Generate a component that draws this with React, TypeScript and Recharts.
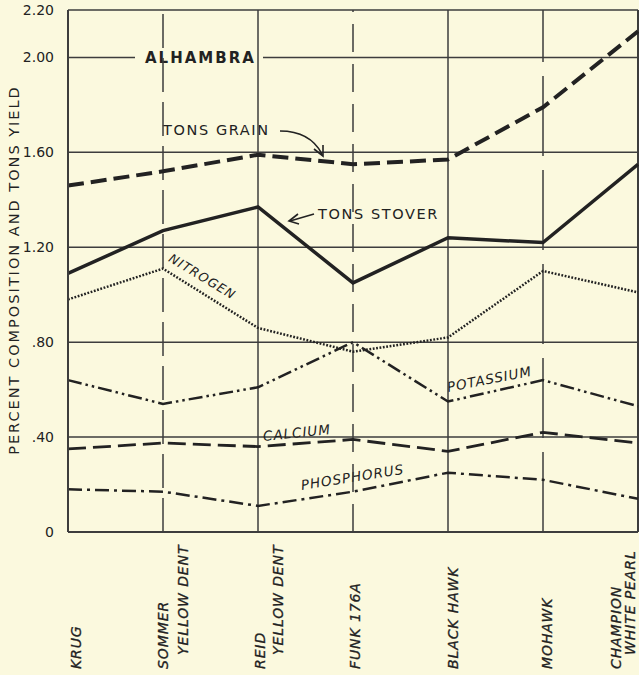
import { LineChart, Line, XAxis, YAxis, CartesianGrid, ReferenceLine, Customized } from 'recharts';

const INK = '#222';
const GRID = '#3d3d3d';
const BG = '#fbf9de';
const FONT = '"DejaVu Sans", Verdana, sans-serif';

const VARIETIES = ['KRUG', 'SOMMER YELLOW DENT', 'REID YELLOW DENT', 'FUNK 176A', 'BLACK HAWK', 'MOHAWK', 'CHAMPION WHITE PEARL'];
const VARIETY_LINES = [
  ['KRUG'],
  ['SOMMER', 'YELLOW DENT'],
  ['REID', 'YELLOW DENT'],
  ['FUNK  176A'],
  ['BLACK HAWK'],
  ['MOHAWK'],
  ['CHAMPION', 'WHITE PEARL'],
];

const tonsGrain = [1.46, 1.52, 1.59, 1.55, 1.57, 1.79, 2.11];
const tonsStover = [1.09, 1.27, 1.37, 1.05, 1.24, 1.22, 1.55];
const nitrogen = [0.98, 1.11, 0.86, 0.76, 0.82, 1.1, 1.01];
const potassium = [0.64, 0.54, 0.61, 0.8, 0.55, 0.64, 0.53];
const calcium = [0.35, 0.375, 0.36, 0.39, 0.34, 0.42, 0.375];
const phosphorus = [0.18, 0.17, 0.11, 0.17, 0.25, 0.22, 0.14];

const Y_TICKS = [0, 0.4, 0.8, 1.2, 1.6, 2.0, 2.2];

const data = VARIETIES.map((name, i) => ({
  name,
  grain: tonsGrain[i],
  stover: tonsStover[i],
  n: nitrogen[i],
  k: potassium[i],
  ca: calcium[i],
  p: phosphorus[i],
}));

// horizontal nudge of each rotated label (first line, second line)
const TICK_SHIFT = [[8, 0], [0, 20], [2, 20], [2, 0], [5, 0], [4, 0], [-22, -8]];

const fmtY = (v: number) => {
  if (v === 0) return '0';
  const s = v.toFixed(2);
  return v < 1 ? s.slice(1) : s;
};

function XTick(props: any) {
  const { x, index } = props;
  const lines = VARIETY_LINES[index] || [];
  const shift = TICK_SHIFT[index] || [0, 0];
  return (
    <g>
      {lines.map((l, i) => (
        <text
          key={i}
          transform={`translate(${x + shift[i]},${i ? 655 : 669}) rotate(-90)`}
          dominantBaseline="central"
          fontFamily={FONT}
          fontStyle="italic"
          fontSize={14}
          letterSpacing={0.9}
          stroke={INK}
          strokeWidth={0.3}
          fill={INK}
        >
          {l}
        </text>
      ))}
    </g>
  );
}

function Notes() {
  const t = { fontFamily: FONT, fill: INK } as const;
  return (
    <g>
      <text transform="translate(14,270) rotate(-90)" textAnchor="middle" dominantBaseline="central" fontSize={14.5} letterSpacing={2} {...t}>
        PERCENT COMPOSITION AND TONS YIELD
      </text>
      <rect x={135} y={46} width={128} height={22} fill={BG} />
      <text x={145} y={58} dominantBaseline="central" fontSize={15} fontWeight="bold" letterSpacing={2} {...t}>
        ALHAMBRA
      </text>
      <rect x={158} y={118} width={122} height={22} fill={BG} />
      <text x={163} y={130} dominantBaseline="central" fontSize={14.5} letterSpacing={1.6} {...t}>
        TONS GRAIN
      </text>
      <path d="M280,131 Q310,131 322,154" fill="none" stroke={INK} strokeWidth={1.6} />
      <path d="M314,149 L323,156 L323,145" fill="none" stroke={INK} strokeWidth={1.6} />
      <rect x={314} y={203} width={130} height={22} fill={BG} />
      <text x={318} y={214} dominantBaseline="central" fontSize={14.5} letterSpacing={1.6} {...t}>
        TONS STOVER
      </text>
      <path d="M314,214 L290,221" fill="none" stroke={INK} strokeWidth={1.6} />
      <path d="M298,214 L289,221 L299,224" fill="none" stroke={INK} strokeWidth={1.6} />
      <text transform="translate(170,257) rotate(31)" dominantBaseline="central" fontSize={12.5} fontStyle="italic" letterSpacing={1.2} {...t}>
        NITROGEN
      </text>
      <text transform="translate(447,387) rotate(-11)" dominantBaseline="central" fontSize={13.5} fontStyle="italic" letterSpacing={1} {...t}>
        POTASSIUM
      </text>
      <text transform="translate(263,436) rotate(-6)" dominantBaseline="central" fontSize={13.5} fontStyle="italic" letterSpacing={1} {...t}>
        CALCIUM
      </text>
      <text transform="translate(301,485) rotate(-9)" dominantBaseline="central" fontSize={13.5} fontStyle="italic" letterSpacing={1} {...t}>
        PHOSPHORUS
      </text>
    </g>
  );
}

export default function App() {
  return (
    <div style={{ position: 'absolute', left: 0, top: 0, width: 639, height: 675, background: BG }}>
      <LineChart width={639} height={675} data={data} margin={{ top: 10, right: 1, bottom: 0, left: 0 }}>
        <CartesianGrid vertical={false} stroke={GRID} strokeWidth={1.5} />
        <XAxis
          dataKey="name"
          height={143}
          interval={0}
          tick={<XTick />}
          tickLine={false}
          axisLine={{ stroke: GRID, strokeWidth: 2 }}
        />
        <YAxis
          domain={[0, 2.2]}
          ticks={Y_TICKS}
          width={68}
          tickFormatter={fmtY}
          tickLine={false}
          tickSize={6}
          tickMargin={8}
          axisLine={{ stroke: GRID, strokeWidth: 2 }}
          tick={{ fontSize: 14, fill: INK, fontFamily: FONT }}
        />
        <ReferenceLine x={VARIETIES[1]} stroke={GRID} strokeWidth={1.5} strokeDasharray="34 10" />
        <ReferenceLine x={VARIETIES[2]} stroke={GRID} strokeWidth={1.5} />
        <ReferenceLine x={VARIETIES[3]} stroke={GRID} strokeWidth={1.5} strokeDasharray="28 12" />
        <ReferenceLine x={VARIETIES[4]} stroke={GRID} strokeWidth={1.5} />
        <ReferenceLine x={VARIETIES[5]} stroke={GRID} strokeWidth={1.5} strokeDasharray="80 14" />
        <ReferenceLine x={VARIETIES[6]} stroke={GRID} strokeWidth={2} />
        <Customized component={Notes} />
        <Line dataKey="grain" stroke={INK} strokeWidth={4} strokeDasharray="16 7" dot={false} isAnimationActive={false} />
        <Line dataKey="stover" stroke={INK} strokeWidth={3.5} dot={false} isAnimationActive={false} />
        <Line dataKey="n" stroke={INK} strokeWidth={2.5} strokeDasharray="1.8 1.6" dot={false} isAnimationActive={false} />
        <Line dataKey="k" stroke={INK} strokeWidth={2.5} strokeDasharray="14 4 2.5 4 2.5 4" dot={false} isAnimationActive={false} />
        <Line dataKey="ca" stroke={INK} strokeWidth={2.8} strokeDasharray="18 7" dot={false} isAnimationActive={false} />
        <Line dataKey="p" stroke={INK} strokeWidth={2.5} strokeDasharray="14 5 3 5" dot={false} isAnimationActive={false} />
      </LineChart>
    </div>
  );
}
